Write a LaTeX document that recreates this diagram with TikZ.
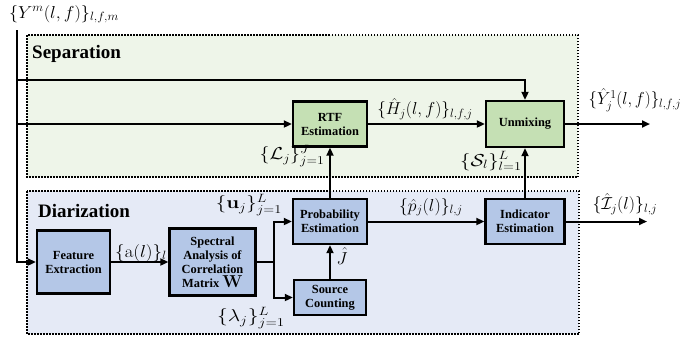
\documentclass[tikz,border=0pt]{standalone}
\usepackage[no-math]{fontspec}
\setmainfont{Liberation Serif}
\usetikzlibrary{arrows.meta}

% larger scripts for the signal labels
\DeclareMathSizes{16}{16}{12.5}{9}

\definecolor{sepbg}{RGB}{238,245,233}
\definecolor{diabg}{RGB}{229,234,246}
\definecolor{boxgreen}{RGB}{197,224,180}
\definecolor{boxblue}{RGB}{180,199,231}

% signal label, optionally widened
\newcommand{\sig}[2][1.1]{\scalebox{#1}[1]{$#2$}}

\tikzset{
  region/.style={line width=2pt, dash pattern=on 1.5pt off 1.5pt},
  heading/.style={font=\fontsize{19}{21}\selectfont\bfseries, inner sep=0pt},
  block/.style={draw, line width=2.4pt, align=center, inner sep=1pt,
    font=\fontsize{12.4}{14}\selectfont\bfseries},
  greenblock/.style={block, fill=boxgreen},
  blueblock/.style={block, fill=boxblue},
  mlabel/.style={font=\fontsize{16}{18}\selectfont, inner sep=0pt},
  wire/.style={line width=2pt},
  conn/.style={wire, -{Triangle[length=8pt,width=7pt]}},
}

\begin{document}
\begin{tikzpicture}[x=1pt,y=-1pt]
\useasboundingbox (0,0) rectangle (683,341);

% the two processing stages
\draw[region, fill=sepbg] (27,35) rectangle (578,177);
\draw[region, fill=diabg] (27,191) rectangle (579,334);
\node[heading, anchor=west] (septitle) at (32,54) {Separation};
\node[heading, anchor=west] (diatitle) at (38,211) {Diarization};

% blocks
\node[blueblock, minimum width=73pt, minimum height=63pt] (feat) at (73.5,262) {Feature\\Extraction};
\node[blueblock, minimum width=86pt, minimum height=67pt] (spec) at (212.5,262) {Spectral\\Analysis of\\Correlation\\Matrix {\fontsize{16}{14}\selectfont$\mathbf{W}$}};
\node[blueblock, minimum width=74pt, minimum height=45pt] (prob) at (330,221.5) {Probability\\Estimation};
\node[blueblock, minimum width=72pt, minimum height=35pt] (src) at (330,297.5) {Source\\Counting};
\node[blueblock, minimum width=79pt, minimum height=45pt] (ind) at (525,221.5) {Indicator\\Estimation};
\node[greenblock, minimum width=74pt, minimum height=45pt] (rtf) at (330,124) {RTF\\Estimation};
\node[greenblock, minimum width=78pt, minimum height=46pt] (unmix) at (525,124) {Unmixing};

% signal labels
\node[mlabel] (ylab) at (64,14) {\sig[1.05]{\{Y^m(l,f)\}_{l,f,m}}};
\node[mlabel] (alab) at (141,253) {\sig[1.1]{\{\mathrm{a}(l)\}_l}};
\node[mlabel] (ulab) at (249,205) {\sig[1.2]{\{\mathbf{u}_j\}_{j=1}^L}};
\node[mlabel] (lamlab) at (251,318) {\sig[1.25]{\{\lambda_j\}_{j=1}^L}};
\node[mlabel] (jlab) at (342,256) {$\hat{J}$};
\node[mlabel] (plab) at (431,207) {\sig[1.02]{\{\hat{p}_j(l)\}_{l,j}}};
\node[mlabel] (ilab) at (625,204) {\sig[1.02]{\{\hat{\mathcal{I}}_j(l)\}_{l,j}}};
\node[mlabel] (Llab) at (292,156) {\sig[1.15]{\{\mathcal{L}_j\}_{j=1}^J}};
\node[mlabel] (Slab) at (491,161) {\sig[1.2]{\{\mathcal{S}_l\}_{l=1}^L}};
\node[mlabel] (Hlab) at (425,109) {\sig[1.0]{\{\hat{H}_j(l,f)\}_{l,f,j}}};
\node[mlabel] (youtlab) at (635,100) {\sig[0.97]{\{\hat{Y}_j^1(l,f)\}_{l,f,j}}};

% connection points
\coordinate (intop) at (17,30);
\coordinate (tapA) at (17,80);
\coordinate (tapB) at (17,124);
\coordinate (split) at (274,262);
\coordinate (yend) at (650,124);
\coordinate (iend) at (647,221.5);

% connectors
\draw[conn] (intop) |- (feat.west);
\draw[conn] (tapA) -| (unmix.north);
\draw[conn] (tapB) -- (rtf.west);
\draw[conn] (feat) -- (spec);
\draw[wire] (spec.east) -- (split);
\draw[conn] (split) |- (prob.west);
\draw[conn] (split) |- (src.west);
\draw[conn] (src) -- (prob);
\draw[conn] (prob) -- (rtf);
\draw[conn] (prob) -- (ind);
\draw[conn] (ind) -- (unmix);
\draw[conn] (rtf) -- (unmix);
\draw[conn] (unmix.east) -- (yend);
\draw[conn] (ind.east) -- (iend);
\end{tikzpicture}
\end{document}
